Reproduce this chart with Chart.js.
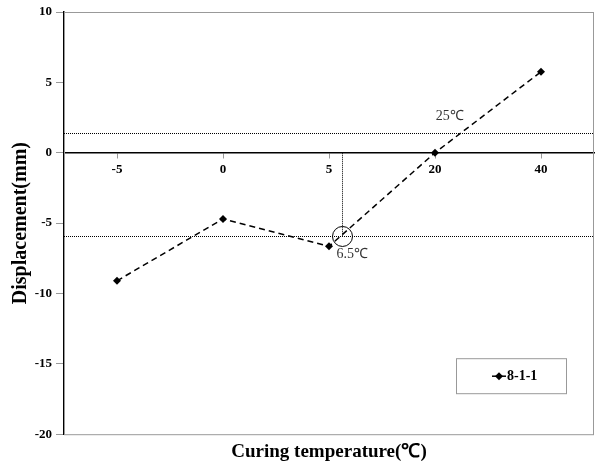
<!DOCTYPE html>
<html>
<head>
<meta charset="utf-8">
<script src="https://cdn.jsdelivr.net/npm/chart.js@4/dist/chart.umd.min.js"></script>
<style>
  html, body { margin: 0; padding: 0; background: #fff; }
  #wrap { width: 598px; height: 464px; }
</style>
</head>
<body>
<div id="wrap"><canvas id="chart"></canvas></div>
<script>
const temperatures = ['-5', '0', '5', '20', '40'];
const displacement = [-9.1, -4.7, -6.65, 0, 5.75];
const seriesName = '8-1-1';
const yTicks = [-20, -15, -10, -5, 0, 5, 10];

// reference lines and notes (values in axis units, x as category index)
const upperLevel = 1.4;
const lowerLevel = -5.95;
const crossIndex = 2.12;
const notes = [
    { text: '25\u2103', x: 3.14, y: 2.6 },
    { text: '6.5\u2103', x: 2.22, y: -7.25 }
];

const serif = "'Liberation Serif', 'Times New Roman', serif";

const extras = {
    id: 'extras',
    beforeDatasetsDraw(chart) {
        const { ctx, chartArea: a, scales: { x, y } } = chart;
        ctx.save();
        ctx.strokeStyle = '#999';
        ctx.lineWidth = 1;
        ctx.strokeRect(a.left + 0.5, a.top + 0.5, a.right - a.left - 1, a.bottom - a.top);

        ctx.strokeStyle = '#000';
        ctx.lineWidth = 1;
        ctx.setLineDash([1, 1]);
        [upperLevel, lowerLevel].forEach(v => {
            const py = Math.round(y.getPixelForValue(v)) + 0.5;
            ctx.beginPath();
            ctx.moveTo(a.left, py);
            ctx.lineTo(a.right, py);
            ctx.stroke();
        });
        const px = Math.round(x.getPixelForValue(crossIndex)) + 0.5;
        ctx.beginPath();
        ctx.moveTo(px, y.getPixelForValue(0));
        ctx.lineTo(px, y.getPixelForValue(lowerLevel));
        ctx.stroke();
        ctx.setLineDash([]);

        ctx.beginPath();
        ctx.arc(px, y.getPixelForValue(lowerLevel), 10, 0, Math.PI * 2);
        ctx.stroke();

        ctx.fillStyle = '#333';
        ctx.font = '14px ' + serif;
        ctx.textAlign = 'center';
        ctx.textBaseline = 'middle';
        notes.forEach(n => ctx.fillText(n.text, x.getPixelForValue(n.x), y.getPixelForValue(n.y)));
        ctx.restore();
    },
    afterDraw(chart) {
        const { ctx, chartArea: a } = chart;
        const bx = a.right - 138, by = a.bottom - 76, bw = 110, bh = 35;
        ctx.save();
        ctx.strokeStyle = '#999';
        ctx.lineWidth = 1;
        ctx.fillStyle = '#fff';
        ctx.fillRect(bx, by, bw, bh);
        ctx.strokeRect(bx + 0.5, by + 0.5, bw, bh);
        const cy = by + bh / 2 + 0.5;
        ctx.strokeStyle = '#000';
        ctx.lineWidth = 1.5;
        ctx.beginPath();
        ctx.moveTo(bx + 36, cy);
        ctx.lineTo(bx + 50, cy);
        ctx.stroke();
        ctx.fillStyle = '#000';
        ctx.beginPath();
        ctx.moveTo(bx + 43, cy - 4);
        ctx.lineTo(bx + 47, cy);
        ctx.lineTo(bx + 43, cy + 4);
        ctx.lineTo(bx + 39, cy);
        ctx.closePath();
        ctx.fill();
        ctx.font = 'bold 14px ' + serif;
        ctx.textAlign = 'left';
        ctx.textBaseline = 'middle';
        ctx.fillText(chart.data.datasets[0].label, bx + 51, cy);
        ctx.restore();
    }
};

new Chart(document.getElementById('chart'), {
    type: 'line',
    data: {
        labels: temperatures,
        datasets: [{
            label: seriesName,
            data: displacement,
            borderColor: '#000',
            backgroundColor: '#000',
            borderWidth: 1.5,
            borderDash: [6, 4],
            pointStyle: 'rectRot',
            pointRadius: 4,
            pointBorderWidth: 0,
            tension: 0,
            fill: false
        }]
    },
    options: {
        responsive: true,
        maintainAspectRatio: false,
        animation: false,
        layout: { padding: { left: 5, top: 12, right: 1, bottom: 0 } },
        plugins: {
            legend: { display: false },
            tooltip: { enabled: false },
            title: {
                display: true,
                position: 'bottom',
                fullSize: false,
                text: 'Curing temperature(\u2103)',
                color: '#000',
                font: { family: serif, size: 19, weight: 'bold' },
                padding: { top: 6, bottom: 1 }
            }
        },
        scales: {
            x: {
                type: 'category',
                position: { y: 0 },
                offset: true,
                grid: { display: true, drawOnChartArea: false, tickLength: 5, color: '#999' },
                border: { color: '#000', width: 1.5 },
                ticks: { color: '#000', padding: 4, font: { family: serif, size: 13, weight: 'bold' } }
            },
            y: {
                min: -20,
                max: 10,
                afterBuildTicks: s => { s.ticks = yTicks.map(v => ({ value: v })); },
                afterFit: s => { s.width = 59; },
                grid: { display: true, drawOnChartArea: false, tickLength: 8, color: '#999' },
                border: { color: '#000', width: 1.5 },
                ticks: { color: '#000', padding: 4, font: { family: serif, size: 13, weight: 'bold' } },
                title: {
                    display: true,
                    text: 'Displacement(mm)',
                    color: '#000',
                    font: { family: serif, size: 20, weight: 'bold' },
                    padding: { top: 4, bottom: 0 }
                }
            }
        }
    },
    plugins: [extras]
});
</script>
</body>
</html>
